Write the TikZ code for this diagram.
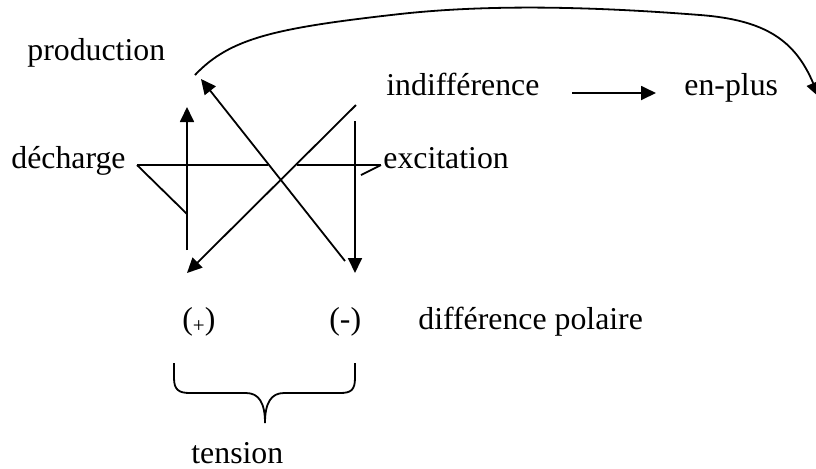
\documentclass[tikz,border=0pt]{standalone}
\usepackage{fontspec}
\setmainfont{Liberation Serif}
\usetikzlibrary{arrows.meta}
\begin{document}
\begin{tikzpicture}[x=0.5pt,y=-0.5pt,
  lbl/.style={anchor=base west,inner sep=0pt,font=\fontsize{15.9}{18}\selectfont},
  ln/.style={line width=0.9pt,line join=miter},
  arr/.style={ln,-{Triangle[length=7.5pt,width=7pt]}}]
\useasboundingbox (0,0) rectangle (816,468);
\clip (0,0) rectangle (816,468);
% texts
\node[lbl] (prod) at (27,60) {production};
\node[lbl] (indiff) at (386,95) {indifférence};
\node[lbl] (enplus) at (684,95) {en-plus};
\node[lbl] (dech) at (11,168) {décharge};
\node[lbl] (exc) at (383,168) {excitation};
\node[lbl] (plus) at (182,329) {({\fontsize{10.5}{12}\selectfont\raisebox{-1.6pt}{+}})};
\node[lbl] (minus) at (329,329) {(-)};
\node[lbl] (diffpol) at (418,329) {différence polaire};
\node[lbl] (tens) at (191,463) {tension};
% coordinates
\coordinate (upS) at (187,250);
\coordinate (upT) at (187,107);
\coordinate (d1S) at (345,261);
\coordinate (d1T) at (201,79);
\coordinate (d2S) at (356,105);
\coordinate (d2T) at (187,273);
\coordinate (dnS) at (355,121);
\coordinate (dnT) at (355,273);
\coordinate (hL) at (137,165);
\coordinate (hM1) at (268,165);
\coordinate (hM2) at (297,165);
\coordinate (hR) at (381,165);
\coordinate (dechT) at (187,214);
\coordinate (excT) at (361,175);
\coordinate (arS) at (572,93);
\coordinate (arT) at (656,93);
\coordinate (cS) at (195,75);
\coordinate (cA) at (400,14);
\coordinate (cB) at (700,15);
\coordinate (cE) at (819,97);
\coordinate (bL) at (174,363);
\coordinate (bR) at (355,363);
\coordinate (bT) at (265,423);
% connectors
\draw[arr] (upS) -- (upT);
\draw[arr] (d1S) -- (d1T);
\draw[arr] (d2S) -- (d2T);
\draw[arr] (dnS) -- (dnT);
\draw[ln] (hL) -- (hM1);
\draw[ln] (hM2) -- (hR);
\draw[ln] (hL) -- (dechT);
\draw[ln] (hR) -- (excT);
\draw[arr] (arS) -- (arT);
\draw[arr] (cS) .. controls (230,38) and (275,28) .. (cA)
  .. controls (500,3) and (610,8) .. (cB)
  .. controls (765,20) and (795,40) .. (cE);
% brace
\draw[ln] (bL) -- (174,378) .. controls (174,390) and (179,393) .. (190,393)
  -- (246,393) .. controls (259,393) and (265,403) .. (bT)
  .. controls (265,403) and (271,393) .. (284,393)
  -- (340,393) .. controls (351,393) and (355,390) .. (355,378) -- (bR);
\end{tikzpicture}
\end{document}
